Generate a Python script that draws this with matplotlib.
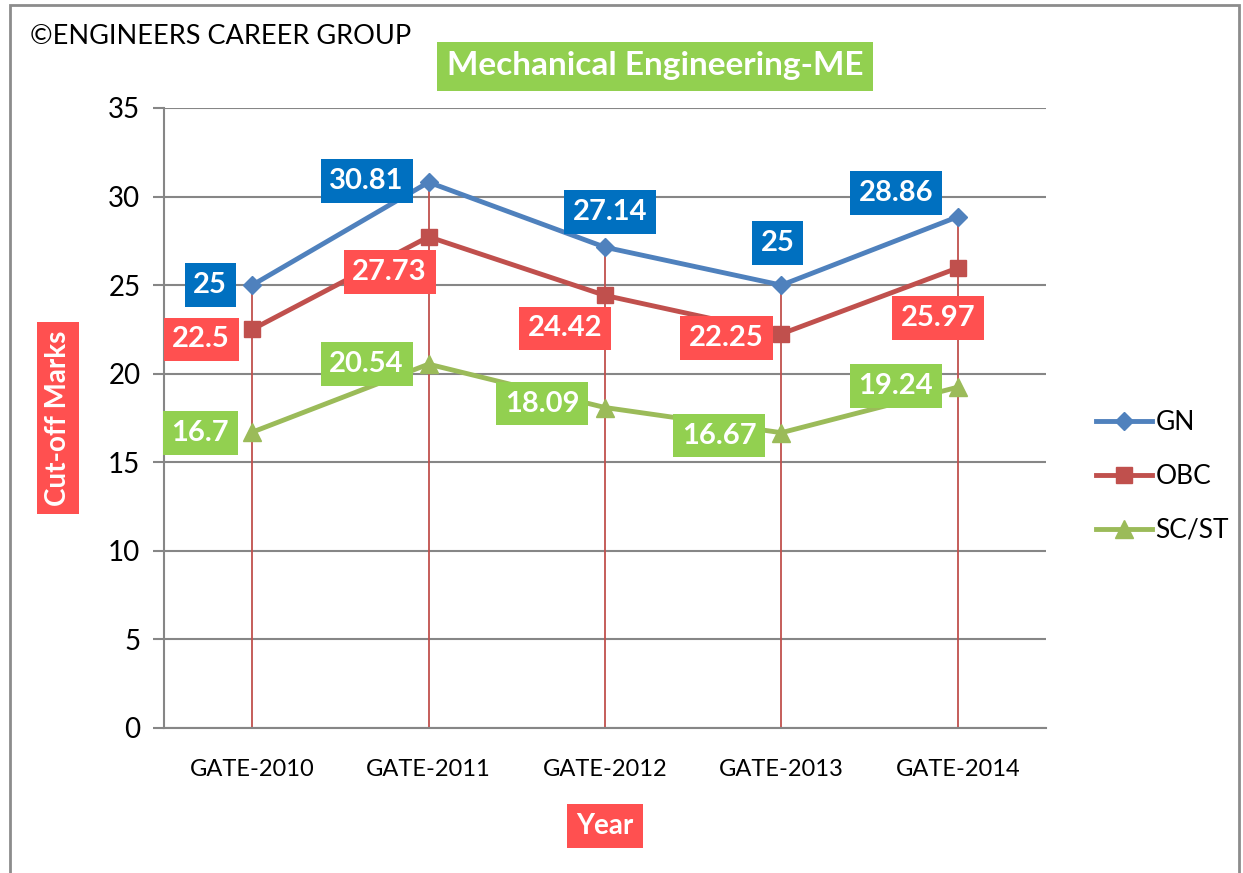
import matplotlib.pyplot as plt
from matplotlib.patches import Rectangle

years = ['GATE-2010', 'GATE-2011', 'GATE-2012', 'GATE-2013', 'GATE-2014']
gn = [25, 30.81, 27.14, 25, 28.86]
obc = [22.5, 27.73, 24.42, 22.25, 25.97]
scst = [16.7, 20.54, 18.09, 16.67, 19.24]

gn_lbl = ['25', '30.81', '27.14', '25', '28.86']
obc_lbl = ['22.5', '27.73', '24.42', '22.25', '25.97']
scst_lbl = ['16.7', '20.54', '18.09', '16.67', '19.24']

# label offsets in pixels relative to each point
gn_off = [(-42, 0), (-62, 1), (5, 35), (-4, 42), (-62, 24)]
obc_off = [(-51, -10), (-39, -35), (-40, -33), (-55, -4), (-20, -50)]
scst_off = [(-52, -1), (-62, 0), (-63, 4), (-62, -3), (-62, 1)]

plt.rcParams['font.family'] = ['Lato', 'DejaVu Sans']

fig = plt.figure(figsize=(12.43, 8.73), dpi=100)
ax = fig.add_axes([164/1243, 1 - 728/873, (1046-164)/1243, (728-108)/873])

x = list(range(len(years)))

# drop lines
tops = [max(a, b, c) for a, b, c in zip(gn, obc, scst)]
ax.vlines(x, 0, tops, color='#C0504D', lw=1.3, zorder=2)

ax.plot(x, gn, color='#4F81BD', lw=3.5, marker='D', ms=9, label='GN', zorder=4)
ax.plot(x, obc, color='#C0504D', lw=3.5, marker='s', ms=12, label='OBC', zorder=4)
ax.plot(x, scst, color='#9BBB59', lw=3.5, marker='^', ms=13, label='SC/ST', zorder=4)

def add_labels(vals, lbls, offs, col):
    for i, (v, t, o) in enumerate(zip(vals, lbls, offs)):
        ax.annotate(t, (i, v), xytext=o, textcoords='offset pixels',
                    ha='center', va='center', color='white', fontsize=21,
                    fontweight='bold', zorder=6,
                    bbox=dict(boxstyle='square,pad=0.3', fc=col, ec='none'))

add_labels(gn, gn_lbl, gn_off, '#0070C0')
add_labels(obc, obc_lbl, obc_off, '#FF5050')
add_labels(scst, scst_lbl, scst_off, '#92D050')

ax.set_xlim(-0.5, 4.5)
ax.set_ylim(0, 35)
ax.set_yticks(range(0, 36, 5))
ax.set_xticks(x)
ax.set_xticklabels(years, fontsize=17)
ax.tick_params(axis='y', labelsize=20, length=8, color='#868686', width=1.5, pad=9)
ax.tick_params(axis='x', length=0, pad=22)
ax.grid(axis='y', color='#868686', lw=1.5, zorder=1)
ax.set_axisbelow(True)
for s in ['top', 'right']:
    ax.spines[s].set_visible(False)
for s in ['left', 'bottom']:
    ax.spines[s].set_color('#868686')
    ax.spines[s].set_linewidth(1.5)

ax.legend(loc='center left', bbox_to_anchor=(1.03, 0.406), frameon=False,
          fontsize=19, labelspacing=1.1, handlelength=2.1, handletextpad=0.15)

# axis titles in boxes
fig.text(58/1243, 1 - 418/873, 'Cut-off Marks', rotation=90, ha='center', va='center',
         color='white', fontsize=20, fontweight='bold',
         bbox=dict(boxstyle='square,pad=0.3', fc='#FF5050', ec='none'))
fig.text(605/1243, 1 - 826/873, 'Year', ha='center', va='center',
         color='white', fontsize=20, fontweight='bold',
         bbox=dict(boxstyle='square,pad=0.33', fc='#FF5050', ec='none'))
fig.text(655/1243, 1 - 66/873, 'Mechanical Engineering-ME', ha='center', va='center',
         color='white', fontsize=24, fontweight='bold',
         bbox=dict(boxstyle='square,pad=0.3', fc='#92D050', ec='none'))
fig.text(30/1243, 1 - 37/873, '\u00a9ENGINEERS CAREER GROUP', ha='left', va='center',
         fontsize=19.5, color='black')

fig.patches.append(Rectangle((10/1243, -0.05), 1229/1243, 1 - 5/873 + 0.05,
                             transform=fig.transFigure, fill=False,
                             ec='#8c8c8c', lw=2))

fig.savefig('out.png', dpi=100)
